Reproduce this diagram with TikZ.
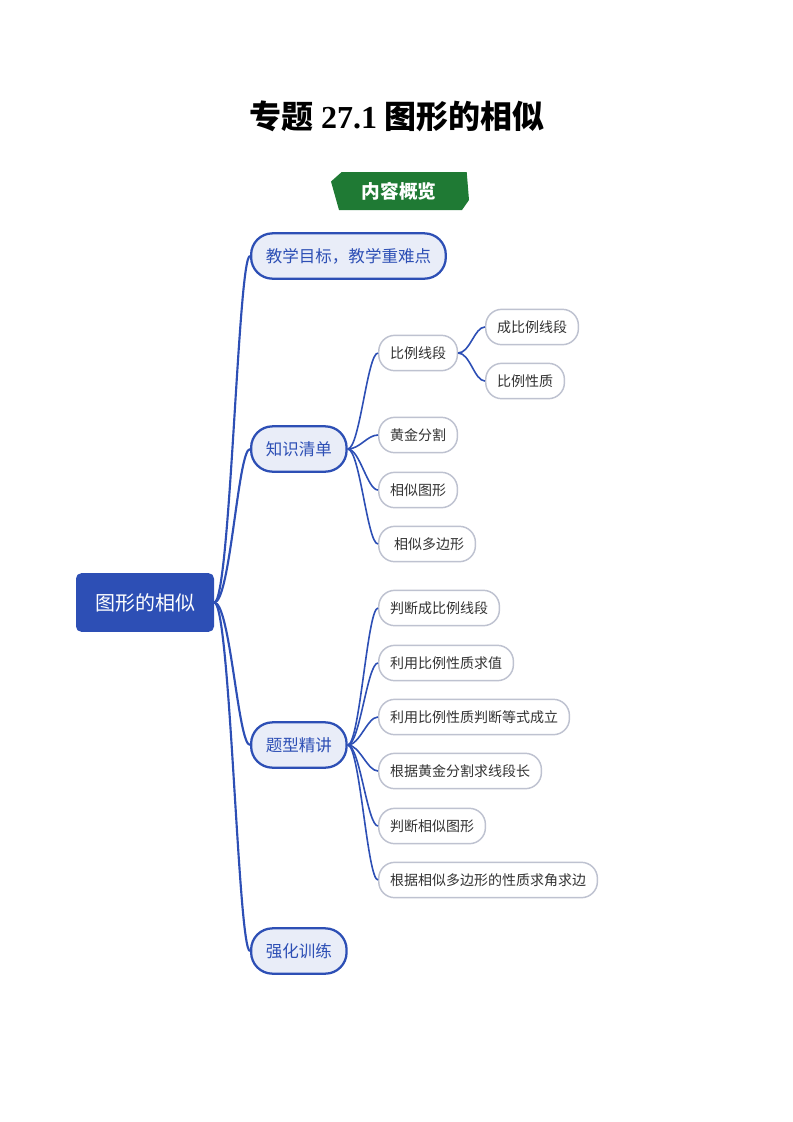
\documentclass[tikz,border=0pt]{standalone}
\usepackage{fontspec}
\setmainfont{Liberation Serif}
\newfontfamily\cjk{Noto Sans CJK SC}
\usetikzlibrary{positioning}
\definecolor{mapblue}{RGB}{45,79,181}
\definecolor{topicfill}{RGB}{233,237,248}
\definecolor{subgray}{RGB}{190,194,208}
\definecolor{textgray}{RGB}{51,51,51}
\definecolor{bannergreen}{RGB}{31,122,52}
\tikzset{
  root/.style={fill=mapblue, rounded corners=4pt, minimum width=103.5pt, minimum height=44pt,
    text=white, font=\cjk\fontsize{15}{18}\selectfont},
  topic/.style={draw=mapblue, line width=1.7pt, fill=topicfill, rounded corners=16pt,
    minimum height=34pt, inner xsep=11pt, anchor=west, text=mapblue,
    font=\cjk\fontsize{12.4}{15}\selectfont},
  subtopic/.style={draw=subgray, line width=1.1pt, fill=white, rounded corners=12pt,
    minimum height=26.5pt, inner xsep=8.5pt, anchor=west, text=textgray,
    font=\cjk\fontsize{10.5}{12}\selectfont},
  branch/.style={draw=mapblue, line width=1.6pt, out=0, in=180, out distance=12pt, in distance=9pt},
  twig/.style={draw=mapblue, line width=1.2pt, out=0, in=180, out distance=9pt, in distance=8pt}
}
\begin{document}
\begin{tikzpicture}[x=0.75pt, y=-0.75pt]
            \useasboundingbox (0,0) rectangle (793,1122);
            % title and banner
            \node (title) at (397,116) {\fontsize{24}{28}\selectfont\bfseries\cjk 专题 {\rmfamily 27.1} 图形的相似};
            \fill[bannergreen] (341.7,172) -- (331,181.5) -- (339,210) -- (462,210) -- (469,200) -- (466.7,172) -- cycle;
            \node[text=white, font=\cjk\bfseries\fontsize{14}{16}\selectfont] (banner) at (399,191) {内容概览};
            % root and main topics
            \node[root] (root) at (145,602.5) {图形的相似};
            \node[topic] (goal) at (250,256) {教学目标，教学重难点};
            \node[topic] (know) at (250,449) {知识清单};
            \node[topic] (lecture) at (250,745) {题型精讲};
            \node[topic] (train) at (250,951) {强化训练};
            % knowledge list
            \node[subtopic] (seg) at (378,353) {比例线段};
            \node[subtopic] (segprop) at (485,327) {成比例线段};
            \node[subtopic] (ratioprop) at (485,381) {比例性质};
            \node[subtopic] (gold) at (378,435) {黄金分割};
            \node[subtopic] (simfig) at (378,490) {相似图形};
            \node[subtopic] (simpoly) at (378,544) {\hspace{3pt}相似多边形};
            % question types
            \node[subtopic] (qa) at (378,608) {判断成比例线段};
            \node[subtopic] (qb) at (378,663) {利用比例性质求值};
            \node[subtopic] (qc) at (378,717) {利用比例性质判断等式成立};
            \node[subtopic] (qd) at (378,771) {根据黄金分割求线段长};
            \node[subtopic] (qe) at (378,826) {判断相似图形};
            \node[subtopic] (qf) at (378,880) {根据相似多边形的性质求角求边};
            % connectors
            \draw[branch] (root.east) to (goal.west);
            \draw[branch] (root.east) to (know.west);
            \draw[branch] (root.east) to (lecture.west);
            \draw[branch] (root.east) to (train.west);
            \draw[twig] (know.east) to (seg.west);
            \draw[twig] (know.east) to (gold.west);
            \draw[twig] (know.east) to (simfig.west);
            \draw[twig] (know.east) to (simpoly.west);
            \draw[twig] (seg.east) to (segprop.west);
            \draw[twig] (seg.east) to (ratioprop.west);
            \draw[twig] (lecture.east) to (qa.west);
            \draw[twig] (lecture.east) to (qb.west);
            \draw[twig] (lecture.east) to (qc.west);
            \draw[twig] (lecture.east) to (qd.west);
            \draw[twig] (lecture.east) to (qe.west);
            \draw[twig] (lecture.east) to (qf.west);
        \end{tikzpicture}
\end{document}
